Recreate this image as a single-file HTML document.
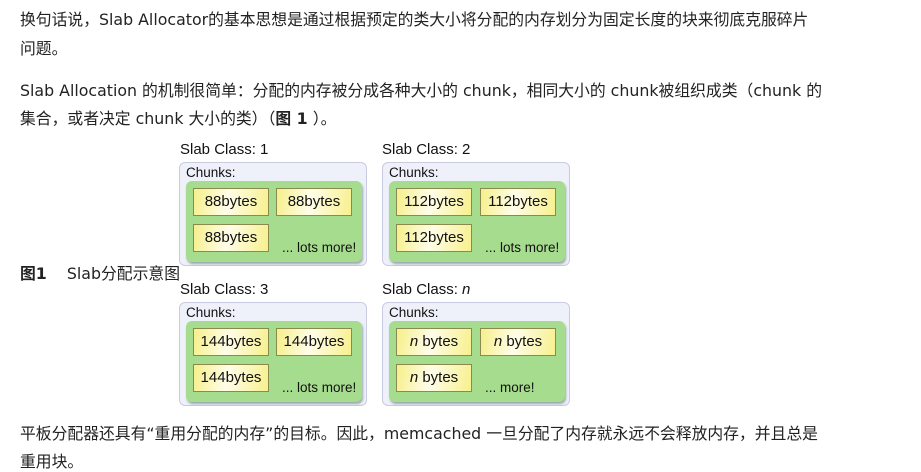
<!DOCTYPE html>
<html><head><meta charset="utf-8"><style>
body{margin:0;width:921px;height:472px;background:#fff;position:relative;overflow:hidden;font-family:"Liberation Sans","Noto Sans CJK SC",sans-serif;color:#222}
.t{position:absolute;left:20px;font-size:15.8px;white-space:nowrap;line-height:20px;font-family:"DejaVu Sans","Noto Sans CJK SC",sans-serif}
.d{font-family:"Liberation Sans",Arial,sans-serif;color:#111}
.lab{position:absolute;font-size:15px}
.outer{position:absolute;width:188px;height:104px;border:1px solid #c9cbe0;border-radius:6px;background:#eef0fa;box-sizing:border-box}
.ch{position:absolute;left:6px;top:2px;font-size:13.5px}
.g{position:absolute;left:6px;top:18px;width:176px;height:81px;background:#a6dc8e;border-radius:6px;box-shadow:1px 2px 2px #9aa}
.c{position:absolute;width:76px;height:28px;border:1px solid #8a8a50;box-sizing:border-box;background:linear-gradient(100deg,#f6ef8a 0%,#fffde8 45%,#f7f08e 100%);font-size:15px;text-align:center;line-height:26px}
.m{position:absolute;left:96px;top:59px;font-size:13.5px}
</style></head><body>
<div class="t" style="top:10px">换句话说，Slab Allocator的基本思想是通过根据预定的类大小将分配的内存划分为固定长度的块来彻底克服碎片</div>
<div class="t" style="top:39px">问题。</div>
<div class="t" style="top:81px">Slab Allocation 的机制很简单：分配的内存被分成各种大小的 chunk，相同大小的 chunk被组织成类（chunk 的</div>
<div class="t" style="top:109px">集合，或者决定 chunk 大小的类）（<b>图 1</b> ）。</div>
<div class="t" style="top:264px"><b>图1</b>&nbsp;&nbsp;&nbsp; Slab分配示意图</div>
<div class="d">
<div class="lab" style="left:180px;top:141px">Slab Class: 1</div>
<div class="outer" style="left:179px;top:162px"><div class="ch">Chunks:</div><div class="g">
<div class="c" style="left:7px;top:7px">88bytes</div><div class="c" style="left:90px;top:7px">88bytes</div><div class="c" style="left:7px;top:43px">88bytes</div><div class="m">... lots more!</div></div></div>
<div class="lab" style="left:382px;top:141px">Slab Class: 2</div>
<div class="outer" style="left:382px;top:162px"><div class="ch">Chunks:</div><div class="g">
<div class="c" style="left:7px;top:7px">112bytes</div><div class="c" style="left:91px;top:7px">112bytes</div><div class="c" style="left:7px;top:43px">112bytes</div><div class="m">... lots more!</div></div></div>
<div class="lab" style="left:180px;top:281px">Slab Class: 3</div>
<div class="outer" style="left:179px;top:302px"><div class="ch">Chunks:</div><div class="g">
<div class="c" style="left:7px;top:7px">144bytes</div><div class="c" style="left:90px;top:7px">144bytes</div><div class="c" style="left:7px;top:43px">144bytes</div><div class="m">... lots more!</div></div></div>
<div class="lab" style="left:382px;top:281px">Slab Class: <i>n</i></div>
<div class="outer" style="left:382px;top:302px"><div class="ch">Chunks:</div><div class="g">
<div class="c" style="left:7px;top:7px"><i>n</i> bytes</div><div class="c" style="left:91px;top:7px"><i>n</i> bytes</div><div class="c" style="left:7px;top:43px"><i>n</i> bytes</div><div class="m">... more!</div></div></div>
</div>
<div class="t" style="top:424px">平板分配器还具有“重用分配的内存”的目标。因此，memcached 一旦分配了内存就永远不会释放内存，并且总是</div>
<div class="t" style="top:452px">重用块。</div>
</body></html>
